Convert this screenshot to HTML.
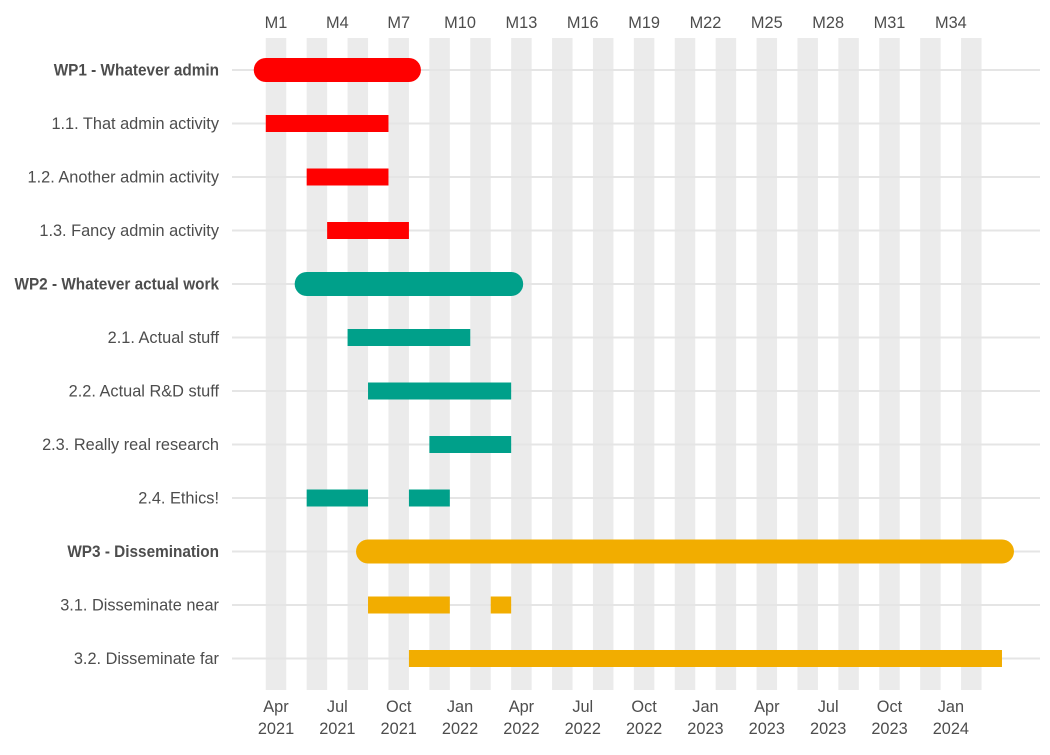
<!DOCTYPE html>
<html><head><meta charset="utf-8"><style>
body{margin:0;background:#fff;}
svg text{font-family:"Liberation Sans Narrow","Liberation Sans",sans-serif;fill:#4d4d4d;font-size:16.5px;}
</style></head><body>
<svg id="chart" width="1050" height="750" xmlns="http://www.w3.org/2000/svg"></svg>
<script>
const taskLabels=["WP1 - Whatever admin","1.1. That admin activity","1.2. Another admin activity","1.3. Fancy admin activity","WP2 - Whatever actual work","2.1. Actual stuff","2.2. Actual R&D stuff","2.3. Really real research","2.4. Ethics!","WP3 - Dissemination","3.1. Disseminate near","3.2. Disseminate far"];
const isWP=[1,0,0,0,1,0,0,0,0,1,0,0];
const taskColor=["#ff0000","#ff0000","#ff0000","#ff0000","#00a08a","#00a08a","#00a08a","#00a08a","#00a08a","#f2ad00","#f2ad00","#f2ad00"];
// segments: [rowIndex, startMonth, endMonth]
const segRow=[0,1,2,3,4,5,6,7,8,8,9,10,10,11];
const segStart=[1,1,3,4,3,5,6,9,3,8,6,6,12,8];
const segEnd=[7,6,6,7,12,10,12,12,5,9,36,9,12,36];
const topTicks=["M1","M4","M7","M10","M13","M16","M19","M22","M25","M28","M31","M34"];
const bottomMonths=["Apr","Jul","Oct","Jan","Apr","Jul","Oct","Jan","Apr","Jul","Oct","Jan"];
const bottomYears=["2021","2021","2021","2022","2022","2022","2022","2023","2023","2023","2023","2024"];

const svg=document.getElementById('chart');
const NS="http://www.w3.org/2000/svg";
const pxPerMonth=20.45, m1=276, row0=70, rowStep=53.5;
const xC=m=>m1+(m-1)*pxPerMonth;
const xS=m=>xC(m)-pxPerMonth/2;
const xE=m=>xC(m)+pxPerMonth/2;
const yR=i=>row0+i*rowStep;
function mk(t,a,p){const e=document.createElementNS(NS,t);for(const k in a)e.setAttribute(k,a[k]);(p||svg).appendChild(e);return e;}
function txt(x,y,anchor,sx){return mk('text',{x:0,y:0,'text-anchor':anchor,transform:`translate(${x},${y}) scale(${sx||0.99},1)`});}

for(let m=1;m<=36;m+=2){
  const r=mk('rect',{x:xS(m),y:38,width:pxPerMonth,height:652,fill:'#ebebeb'});
  
  
}
taskLabels.forEach((lab,i)=>{
  const g=mk('line',{x1:232,x2:1040,y1:yR(i),y2:yR(i),stroke:'#e5e5e5','stroke-width':2});
  
  
  const t=txt(219,yR(i)+5.5,'end',isWP[i]?0.93:0.99);
  t.textContent=lab;
  if(isWP[i]){t.setAttribute('font-weight','bold');t.setAttribute('fill','#333');}
  
  
});
segRow.forEach((r,k)=>{
  const wp=isWP[r];
  const h=wp?24:17;
  let el;
  if(wp){
    el=mk('line',{x1:xS(segStart[k]),x2:xE(segEnd[k]),y1:yR(r),y2:yR(r),stroke:taskColor[r],'stroke-width':h,'stroke-linecap':'round'});
  }else{
    el=mk('rect',{x:xS(segStart[k]),y:yR(r)-h/2,width:xE(segEnd[k])-xS(segStart[k]),height:h,fill:taskColor[r]});
  }
  
  
});
topTicks.forEach((lab,i)=>{
  const t=txt(xC(1+3*i),28,'middle');
  t.textContent=lab;
  
  
});
bottomMonths.forEach((lab,i)=>{
  const t=txt(xC(1+3*i),712,'middle');
  t.textContent=lab;
  
  
  const y=txt(xC(1+3*i),734,'middle');
  y.textContent=bottomYears[i];
  
  
});
</script>
</body></html>
